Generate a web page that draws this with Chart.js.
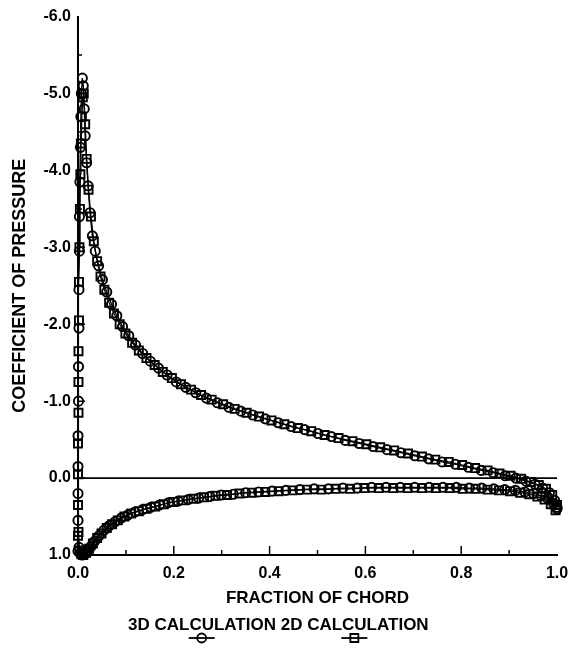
<!DOCTYPE html>
<html>
<head>
<meta charset="utf-8">
<script src="https://cdn.jsdelivr.net/npm/chart.js@4.4.1/dist/chart.umd.min.js"></script>
<style>
html, body { margin: 0; padding: 0; background: #fff; }
</style>
</head>
<body>
<canvas id="cpChart" width="583" height="648"></canvas>
<script>
// Pressure coefficient along the chord
const xUpper3D = [0.000, 0.000, 0.000, 0.000, 0.000, 0.001, 0.001, 0.002, 0.002, 0.003, 0.003, 0.004, 0.005, 0.006, 0.007, 0.009, 0.011, 0.013, 0.015, 0.018, 0.021, 0.025, 0.030, 0.036, 0.043, 0.051, 0.060, 0.070, 0.081, 0.093, 0.106, 0.120, 0.135, 0.151, 0.168, 0.186, 0.205, 0.225, 0.246, 0.268, 0.291, 0.315, 0.340, 0.365, 0.391, 0.418, 0.445, 0.473, 0.501, 0.529, 0.558, 0.587, 0.616, 0.645, 0.674, 0.703, 0.732, 0.760, 0.788, 0.815, 0.842, 0.867, 0.892, 0.914, 0.935, 0.954, 0.970, 0.984, 0.995, 1.000];
const cpUpper3D = [0.95, 0.55, 0.20, -0.15, -0.55, -1.00, -1.45, -1.95, -2.45, -2.95, -3.40, -3.85, -4.30, -4.70, -5.00, -5.20, -5.10, -4.80, -4.45, -4.10, -3.80, -3.45, -3.15, -2.95, -2.76, -2.58, -2.42, -2.26, -2.11, -1.97, -1.85, -1.73, -1.62, -1.52, -1.43, -1.34, -1.25, -1.18, -1.11, -1.04, -0.98, -0.92, -0.87, -0.82, -0.77, -0.72, -0.67, -0.63, -0.58, -0.54, -0.49, -0.45, -0.41, -0.37, -0.33, -0.29, -0.25, -0.21, -0.18, -0.14, -0.10, -0.07, -0.03, 0.00, 0.04, 0.08, 0.13, 0.19, 0.29, 0.38];
const xLower3D = [0.002, 0.005, 0.009, 0.014, 0.020, 0.027, 0.035, 0.044, 0.054, 0.065, 0.077, 0.090, 0.104, 0.119, 0.135, 0.152, 0.170, 0.189, 0.209, 0.230, 0.252, 0.275, 0.299, 0.324, 0.350, 0.377, 0.405, 0.434, 0.463, 0.493, 0.523, 0.553, 0.583, 0.613, 0.643, 0.673, 0.703, 0.733, 0.762, 0.790, 0.817, 0.843, 0.868, 0.891, 0.913, 0.933, 0.951, 0.967, 0.981, 0.993, 1.000];
const cpLower3D = [0.90, 0.98, 1.00, 0.99, 0.95, 0.89, 0.82, 0.75, 0.68, 0.62, 0.57, 0.52, 0.48, 0.44, 0.41, 0.38, 0.35, 0.32, 0.30, 0.28, 0.26, 0.24, 0.22, 0.21, 0.19, 0.18, 0.17, 0.16, 0.15, 0.14, 0.14, 0.13, 0.13, 0.12, 0.12, 0.12, 0.12, 0.12, 0.12, 0.12, 0.13, 0.13, 0.14, 0.15, 0.16, 0.18, 0.20, 0.23, 0.27, 0.33, 0.40];

const xUpper2D = [0.000, 0.000, 0.000, 0.000, 0.001, 0.001, 0.001, 0.002, 0.002, 0.003, 0.004, 0.005, 0.006, 0.008, 0.010, 0.012, 0.015, 0.018, 0.022, 0.027, 0.033, 0.040, 0.047, 0.055, 0.065, 0.075, 0.087, 0.099, 0.113, 0.127, 0.143, 0.160, 0.177, 0.196, 0.215, 0.236, 0.257, 0.279, 0.303, 0.327, 0.352, 0.378, 0.404, 0.431, 0.459, 0.487, 0.515, 0.544, 0.573, 0.602, 0.631, 0.660, 0.689, 0.718, 0.746, 0.774, 0.802, 0.829, 0.855, 0.880, 0.903, 0.925, 0.945, 0.962, 0.977, 0.990, 1.000];
const cpUpper2D = [0.75, 0.35, -0.05, -0.45, -0.85, -1.25, -1.65, -2.05, -2.55, -3.00, -3.50, -3.95, -4.35, -4.70, -4.95, -5.00, -4.60, -4.15, -3.75, -3.40, -3.08, -2.82, -2.62, -2.45, -2.28, -2.14, -2.00, -1.88, -1.76, -1.66, -1.56, -1.47, -1.38, -1.30, -1.22, -1.15, -1.08, -1.02, -0.96, -0.90, -0.85, -0.80, -0.75, -0.70, -0.65, -0.61, -0.56, -0.52, -0.48, -0.44, -0.40, -0.36, -0.32, -0.28, -0.24, -0.21, -0.17, -0.13, -0.10, -0.06, -0.03, 0.01, 0.05, 0.09, 0.14, 0.22, 0.35];
const xLower2D = [0.001, 0.003, 0.007, 0.011, 0.017, 0.023, 0.031, 0.040, 0.049, 0.060, 0.071, 0.083, 0.097, 0.111, 0.127, 0.143, 0.161, 0.179, 0.199, 0.219, 0.241, 0.263, 0.287, 0.311, 0.337, 0.363, 0.391, 0.419, 0.448, 0.478, 0.508, 0.538, 0.568, 0.598, 0.628, 0.658, 0.688, 0.718, 0.747, 0.776, 0.803, 0.830, 0.855, 0.879, 0.902, 0.923, 0.942, 0.959, 0.974, 0.987, 0.997];
const cpLower2D = [0.70, 0.94, 0.99, 1.00, 0.97, 0.92, 0.85, 0.78, 0.72, 0.65, 0.60, 0.55, 0.50, 0.46, 0.43, 0.40, 0.37, 0.34, 0.31, 0.29, 0.27, 0.25, 0.23, 0.22, 0.20, 0.19, 0.18, 0.17, 0.16, 0.15, 0.15, 0.14, 0.14, 0.13, 0.13, 0.13, 0.13, 0.13, 0.13, 0.13, 0.14, 0.14, 0.15, 0.16, 0.17, 0.19, 0.21, 0.24, 0.28, 0.34, 0.42];

const zeroLineX = [0.0, 1.0];
const zeroLineY = [0.0, 0.0];

const legendLabels = ['3D CALCULATION', '2D CALCULATION'];
const legendStyles = ['circle', 'rect'];

const FONT = '"Liberation Sans", Arial, sans-serif';

function toPoints(xs, ys) {
    return xs.map((x, i) => ({ x: x, y: ys[i] }));
}

function series(xs, ys, style) {
    return {
        data: toPoints(xs, ys),
        showLine: true,
        borderColor: '#000',
        borderWidth: 1.3,
        pointStyle: style,
        pointRadius: style === 'rect' ? 5.7 : 4.6,
        pointBorderWidth: 1.9,
        pointBorderColor: '#000',
        pointBackgroundColor: 'rgba(0,0,0,0)',
        clip: false
    };
}

// small tick marks pointing into the plot, plus the legend under the axis title
const extrasPlugin = {
    id: 'extras',
    afterDraw(chart) {
        const { ctx, chartArea, scales } = chart;
        ctx.save();
        ctx.strokeStyle = '#000';
        ctx.lineWidth = 1.5;
        ctx.beginPath();
        for (let v = -5.5; v <= 0.5; v += 0.5) {
            const y = scales.y.getPixelForValue(v);
            const len = Number.isInteger(v) ? 7 : 4;
            ctx.moveTo(chartArea.left, y);
            ctx.lineTo(chartArea.left + len, y);
        }
        for (let i = 1; i < 10; i++) {
            const x = scales.x.getPixelForValue(i / 10);
            const len = i % 2 === 0 ? 9 : 5;
            ctx.moveTo(x, chartArea.bottom);
            ctx.lineTo(x, chartArea.bottom - len);
        }
        ctx.stroke();

        ctx.font = 'bold 17px ' + FONT;
        ctx.fillStyle = '#000';
        ctx.textBaseline = 'middle';
        ctx.textAlign = 'left';
        let x = 128;
        const y = 625;
        legendLabels.forEach((label, i) => {
            ctx.fillText(label, x, y);
            const pre = ctx.measureText(label.slice(0, label.indexOf('CU'))).width;
            const mx = x + pre + ctx.measureText('CU').width / 2;
            const my = y + 13;
            ctx.lineWidth = 1.8;
            ctx.beginPath();
            ctx.moveTo(mx - 13, my);
            ctx.lineTo(mx + 13, my);
            ctx.stroke();
            ctx.beginPath();
            if (legendStyles[i] === 'circle') {
                ctx.arc(mx, my, 4.5, 0, Math.PI * 2);
            } else {
                ctx.rect(mx - 4, my - 4, 8, 8);
            }
            ctx.stroke();
            x += ctx.measureText(label + ' ').width;
        });
        ctx.restore();
    }
};

const ctx = document.getElementById('cpChart').getContext('2d');
const cpChart = new Chart(ctx, {
    type: 'scatter',
    data: {
        datasets: [
            {
                data: toPoints(zeroLineX, zeroLineY),
                showLine: true,
                borderColor: '#000',
                borderWidth: 1.8,
                pointRadius: 0
            },
            series(xUpper3D, cpUpper3D, 'circle'),
            series(xLower3D, cpLower3D, 'circle'),
            series(xUpper2D, cpUpper2D, 'rect'),
            series(xLower2D, cpLower2D, 'rect')
        ]
    },
    options: {
        responsive: false,
        animation: false,
        layout: { padding: { left: 3, right: 26, top: 15, bottom: 38 } },
        plugins: {
            legend: { display: false },
            tooltip: { enabled: false }
        },
        scales: {
            x: {
                type: 'linear',
                min: 0,
                max: 1,
                afterFit: (scale) => { scale.height = 55; },
                grid: { drawOnChartArea: false, drawTicks: false },
                border: { display: true, color: '#000', width: 2 },
                ticks: {
                    stepSize: 0.2,
                    padding: 9,
                    color: '#000',
                    font: { family: FONT, size: 16, weight: 'bold' },
                    callback: (v) => v.toFixed(1)
                },
                title: {
                    display: true,
                    text: 'FRACTION OF CHORD',
                    color: '#000',
                    padding: { top: 0, bottom: 1 },
                    font: { family: FONT, size: 17, weight: 'bold' }
                }
            },
            y: {
                type: 'linear',
                reverse: true,
                min: -6,
                max: 1,
                afterFit: (scale) => { scale.width = 75; },
                grid: { drawOnChartArea: false, drawTicks: false },
                border: { display: true, color: '#000', width: 2 },
                ticks: {
                    stepSize: 1,
                    padding: 7,
                    color: '#000',
                    font: { family: FONT, size: 16, weight: 'bold' },
                    callback: (v) => v.toFixed(1)
                },
                title: {
                    display: true,
                    text: 'COEFFICIENT OF PRESSURE',
                    color: '#000',
                    padding: { top: 6, bottom: 0 },
                    font: { family: FONT, size: 18, weight: 'bold' }
                }
            }
        }
    },
    plugins: [extrasPlugin]
});
</script>
</body>
</html>
